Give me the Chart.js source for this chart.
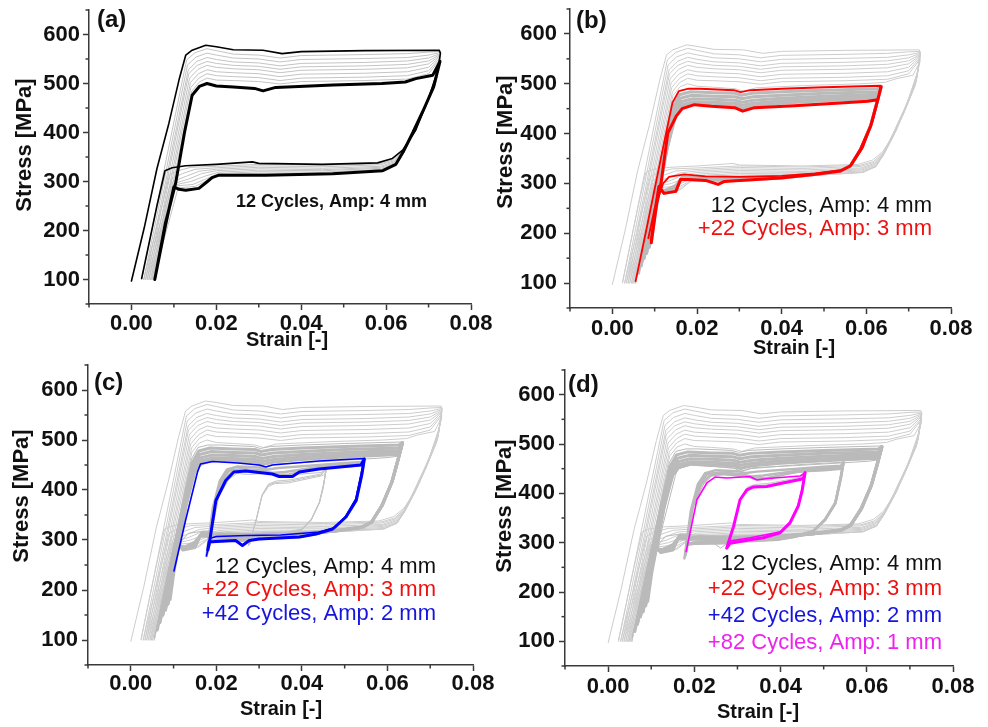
<!DOCTYPE html>
<html>
<head>
<meta charset="utf-8">
<script src="https://cdn.jsdelivr.net/npm/chart.js@4.4.1/dist/chart.umd.min.js"></script>
<style>
  html, body { margin: 0; padding: 0; background: #fff; }
  #wrap { position: relative; width: 988px; height: 727px; overflow: hidden; }
  canvas { position: absolute; }
</style>
</head>
<body>
<div id="wrap">
  <canvas id="pa" width="494" height="363" style="left:0;top:0"></canvas>
  <canvas id="pb" width="494" height="363" style="left:494px;top:0"></canvas>
  <canvas id="pc" width="494" height="364" style="left:0;top:363px"></canvas>
  <canvas id="pd" width="494" height="364" style="left:494px;top:363px"></canvas>
</div>
<script>
// axis ticks
const xTicks = [0, 0.02, 0.04, 0.06, 0.08];
const yTicks = [100, 200, 300, 400, 500, 600];
const xMinor = [-0.01, 0.01, 0.03, 0.05, 0.07];
const yMinor = [50, 150, 250, 350, 450, 550, 650];

// notes
const notes = [
  "12 Cycles, Amp: 4 mm",
  "+22 Cycles, Amp: 3 mm",
  "+42 Cycles, Amp: 2 mm",
  "+82 Cycles, Amp: 1 mm",
];

// ---- 4 mm amplitude, 12 cycles: [strain, stress MPa] ----
const loop4mmFirst = [
  [0.0000, 97], [0.0030, 205], [0.0060, 326], [0.0088, 418], [0.0112, 507], [0.0128, 558], [0.0143, 568],
  [0.0175, 578], [0.0200, 575], [0.0240, 569], [0.0310, 568], [0.0355, 561], [0.0400, 565], [0.0550, 567],
  [0.0725, 568], [0.0728, 562], [0.0722, 527], [0.0700, 470], [0.0670, 405], [0.0639, 364], [0.0615, 347],
  [0.0580, 338], [0.0450, 335], [0.0300, 337], [0.0285, 340], [0.0200, 335], [0.0128, 332], [0.0096, 328],
  [0.0079, 322], [0.0060, 250], [0.0024, 102],
];
const loops4mmMid = [
  [[0.0024, 100], [0.0077, 324], [0.0115, 485], [0.0130, 548], [0.0150, 563], [0.0178, 571], [0.0200, 567],
   [0.0240, 560], [0.0300, 558], [0.0350, 552], [0.0400, 557], [0.0550, 559], [0.0650, 561], [0.0700, 564],
   [0.0727, 565], [0.0721, 520], [0.0695, 458], [0.0667, 402], [0.0640, 362], [0.0617, 344], [0.0585, 336],
   [0.0450, 333], [0.0300, 335], [0.0200, 331], [0.0140, 329], [0.0110, 322], [0.0090, 314], [0.0029, 100]],
  [[0.0029, 100], [0.0081, 319], [0.0117, 474], [0.0132, 538], [0.0152, 554], [0.0178, 562], [0.0200, 558],
   [0.0240, 552], [0.0300, 550], [0.0350, 544], [0.0400, 549], [0.0550, 551], [0.0650, 553], [0.0700, 558],
   [0.0727, 563], [0.0720, 515], [0.0694, 455], [0.0666, 400], [0.0640, 360], [0.0618, 342], [0.0586, 334],
   [0.0450, 330], [0.0300, 332], [0.0200, 328], [0.0150, 325], [0.0120, 316], [0.0095, 306], [0.0033, 100]],
  [[0.0033, 100], [0.0084, 314], [0.0119, 464], [0.0134, 528], [0.0154, 545], [0.0178, 553], [0.0200, 549],
   [0.0240, 544], [0.0300, 542], [0.0350, 536], [0.0400, 541], [0.0550, 543], [0.0650, 546], [0.0700, 552],
   [0.0727, 561], [0.0719, 510], [0.0693, 452], [0.0666, 399], [0.0640, 359], [0.0619, 340], [0.0587, 331],
   [0.0450, 327], [0.0300, 329], [0.0200, 325], [0.0160, 321], [0.0130, 311], [0.0098, 300], [0.0037, 100]],
  [[0.0037, 100], [0.0086, 310], [0.0120, 456], [0.0135, 520], [0.0155, 537], [0.0178, 545], [0.0200, 541],
   [0.0240, 537], [0.0300, 535], [0.0350, 529], [0.0400, 534], [0.0550, 536], [0.0650, 539], [0.0700, 546],
   [0.0727, 559], [0.0718, 506], [0.0692, 450], [0.0665, 398], [0.0640, 358], [0.0620, 338], [0.0588, 329],
   [0.0450, 324], [0.0300, 326], [0.0200, 322], [0.0165, 316], [0.0135, 305], [0.0100, 296], [0.0041, 100]],
  [[0.0041, 100], [0.0089, 305], [0.0122, 447], [0.0137, 511], [0.0157, 529], [0.0178, 537], [0.0200, 533],
   [0.0240, 530], [0.0300, 528], [0.0350, 522], [0.0400, 527], [0.0550, 529], [0.0650, 532], [0.0700, 540],
   [0.0727, 557], [0.0717, 502], [0.0691, 448], [0.0665, 397], [0.0640, 357], [0.0621, 336], [0.0589, 327],
   [0.0450, 322], [0.0300, 323], [0.0205, 319], [0.0170, 310], [0.0140, 300], [0.0102, 293], [0.0045, 100]],
  [[0.0045, 100], [0.0092, 301], [0.0124, 438], [0.0139, 502], [0.0158, 520], [0.0178, 528], [0.0200, 524],
   [0.0240, 522], [0.0300, 520], [0.0350, 514], [0.0400, 519], [0.0550, 521], [0.0650, 524], [0.0700, 533],
   [0.0727, 555], [0.0716, 499], [0.0691, 446], [0.0664, 396], [0.0640, 357], [0.0622, 334], [0.0590, 325],
   [0.0450, 319], [0.0300, 320], [0.0205, 316], [0.0175, 305], [0.0145, 294], [0.0105, 291], [0.0048, 100]],
  [[0.0048, 100], [0.0094, 296], [0.0125, 428], [0.0140, 492], [0.0159, 511], [0.0178, 520], [0.0200, 516],
   [0.0240, 514], [0.0300, 512], [0.0350, 506], [0.0400, 511], [0.0550, 513], [0.0650, 516], [0.0700, 526],
   [0.0727, 552], [0.0715, 496], [0.0690, 444], [0.0664, 395], [0.0640, 356], [0.0622, 333], [0.0591, 323],
   [0.0450, 317], [0.0300, 317], [0.0205, 314], [0.0178, 302], [0.0150, 290], [0.0110, 287], [0.0051, 100]],
  [[0.0051, 100], [0.0097, 292], [0.0127, 421], [0.0142, 484], [0.0160, 503], [0.0178, 511], [0.0200, 507],
   [0.0240, 506], [0.0300, 504], [0.0350, 499], [0.0400, 504], [0.0550, 506], [0.0650, 509], [0.0700, 520],
   [0.0727, 549], [0.0714, 494], [0.0690, 447], [0.0663, 399], [0.0640, 359], [0.0623, 334], [0.0591, 322],
   [0.0450, 315], [0.0300, 315], [0.0206, 313], [0.0180, 301], [0.0155, 287], [0.0120, 283], [0.0102, 288],
   [0.0055, 100]],
];
const loop4mmLast = [
  [0.0055, 100], [0.0080, 215], [0.0104, 296], [0.0125, 400], [0.0143, 476], [0.0160, 494], [0.0178, 500],
  [0.0200, 495], [0.0240, 493], [0.0290, 490], [0.0310, 485], [0.0340, 492], [0.0475, 497], [0.0590, 500],
  [0.0645, 503], [0.0670, 510], [0.0710, 517], [0.0727, 545], [0.0712, 493], [0.0690, 450], [0.0663, 400],
  [0.0640, 360], [0.0623, 335], [0.0592, 322], [0.0474, 316], [0.0316, 313], [0.0206, 313], [0.0190, 308],
  [0.0179, 300], [0.0159, 286], [0.0128, 282], [0.0112, 284], [0.0100, 289], [0.0080, 210], [0.0055, 100],
];

// ---- 3 mm amplitude, +22 cycles ----
const loop3mmFirst = [
  [0.0055, 104], [0.0082, 214], [0.0115, 352], [0.0142, 462], [0.0157, 485], [0.0180, 490], [0.0208, 490],
  [0.0287, 487], [0.0303, 483], [0.0326, 487], [0.0400, 490], [0.0500, 493], [0.0633, 496], [0.0630, 475],
  [0.0615, 425], [0.0592, 372], [0.0566, 338], [0.0545, 327], [0.0480, 320], [0.0400, 315], [0.0300, 313],
  [0.0220, 314], [0.0170, 318], [0.0134, 313], [0.0120, 300], [0.0100, 250], [0.0085, 190],
];
const loops3mmMid = [
  [[0.0062, 120], [0.0090, 237], [0.0120, 360], [0.0144, 455], [0.0159, 478], [0.0185, 484], [0.0240, 482],
   [0.0290, 481], [0.0305, 477], [0.0330, 481], [0.0400, 484], [0.0500, 487], [0.0627, 490], [0.0635, 495],
   [0.0626, 465], [0.0611, 418], [0.0588, 370], [0.0564, 337], [0.0541, 326], [0.0478, 319], [0.0400, 314],
   [0.0300, 311], [0.0200, 311], [0.0168, 315], [0.0150, 296], [0.0125, 286], [0.0108, 288], [0.0068, 135]],
  [[0.0068, 135], [0.0095, 248], [0.0123, 362], [0.0146, 450], [0.0161, 471], [0.0188, 477], [0.0240, 475],
   [0.0290, 474], [0.0306, 470], [0.0332, 474], [0.0400, 477], [0.0500, 481], [0.0627, 484], [0.0635, 495],
   [0.0626, 464], [0.0611, 417], [0.0588, 369], [0.0563, 336], [0.0540, 326], [0.0477, 318], [0.0400, 313],
   [0.0300, 309], [0.0200, 310], [0.0166, 313], [0.0151, 292], [0.0124, 284], [0.0108, 289], [0.0075, 150]],
  [[0.0075, 150], [0.0100, 257], [0.0126, 365], [0.0148, 445], [0.0162, 464], [0.0190, 470], [0.0240, 469],
   [0.0290, 467], [0.0307, 463], [0.0333, 467], [0.0400, 471], [0.0500, 475], [0.0627, 479], [0.0635, 494],
   [0.0626, 463], [0.0611, 416], [0.0587, 369], [0.0563, 335], [0.0540, 325], [0.0477, 318], [0.0400, 312],
   [0.0300, 308], [0.0200, 309], [0.0164, 311], [0.0151, 289], [0.0123, 282], [0.0109, 290], [0.0081, 160]],
  [[0.0081, 160], [0.0105, 263], [0.0128, 365], [0.0149, 440], [0.0163, 458], [0.0192, 464], [0.0240, 463],
   [0.0290, 461], [0.0307, 457], [0.0334, 461], [0.0400, 466], [0.0500, 470], [0.0627, 475], [0.0635, 494],
   [0.0625, 462], [0.0610, 415], [0.0587, 368], [0.0562, 335], [0.0540, 325], [0.0476, 318], [0.0400, 311],
   [0.0300, 307], [0.0200, 308], [0.0162, 309], [0.0150, 286], [0.0122, 281], [0.0109, 292], [0.0087, 172]],
  [[0.0087, 172], [0.0108, 270], [0.0130, 372], [0.0150, 437], [0.0164, 453], [0.0193, 460], [0.0240, 458],
   [0.0290, 456], [0.0308, 451], [0.0335, 456], [0.0400, 461], [0.0500, 466], [0.0627, 471], [0.0635, 493],
   [0.0625, 462], [0.0610, 415], [0.0586, 368], [0.0562, 335], [0.0539, 325], [0.0476, 318], [0.0400, 311],
   [0.0300, 306], [0.0200, 307], [0.0161, 308], [0.0150, 285], [0.0122, 280], [0.0110, 293], [0.0092, 181]],
];
const loop3mmLast = [
  [0.0092, 181], [0.0105, 260], [0.0115, 300], [0.0131, 401], [0.0151, 435], [0.0165, 450], [0.0194, 458],
  [0.0234, 455], [0.0289, 452], [0.0308, 445], [0.0336, 452], [0.0430, 456], [0.0548, 462], [0.0603, 465],
  [0.0627, 468], [0.0635, 494], [0.0625, 462], [0.0610, 415], [0.0586, 368], [0.0562, 335], [0.0539, 325],
  [0.0476, 318], [0.0397, 311], [0.0300, 306], [0.0265, 304], [0.0250, 298], [0.0220, 306], [0.0180, 308],
  [0.0161, 308], [0.0150, 284], [0.0122, 280], [0.0110, 294], [0.0100, 240], [0.0092, 185],
];

// ---- 2 mm amplitude, +42 cycles ----
const loop2mmFirst = [
  [0.0101, 238], [0.0128, 339], [0.0156, 436], [0.0163, 452], [0.0191, 457], [0.0250, 454], [0.0300, 450],
  [0.0316, 446], [0.0331, 450], [0.0440, 458], [0.0500, 461], [0.0546, 463], [0.0538, 430], [0.0526, 382],
  [0.0503, 348], [0.0478, 325], [0.0440, 316], [0.0350, 310], [0.0269, 309], [0.0200, 307], [0.0185, 303],
  [0.0177, 268],
];
const loops2mmMid = [
  [[0.0177, 268], [0.0192, 365], [0.0208, 418], [0.0225, 441], [0.0250, 447], [0.0300, 445], [0.0320, 441],
   [0.0345, 444], [0.0440, 450], [0.0500, 454], [0.0540, 456], [0.0546, 463], [0.0539, 430], [0.0527, 381],
   [0.0503, 347], [0.0476, 323], [0.0436, 313], [0.0394, 308], [0.0300, 304], [0.0270, 302], [0.0200, 301],
   [0.0185, 298], [0.0179, 274]],
  [[0.0179, 274], [0.0194, 368], [0.0212, 418], [0.0230, 439], [0.0260, 442], [0.0310, 439], [0.0330, 434],
   [0.0360, 436], [0.0440, 446], [0.0500, 450], [0.0540, 453], [0.0546, 462], [0.0539, 430], [0.0527, 380],
   [0.0503, 346], [0.0474, 322], [0.0434, 312], [0.0394, 307], [0.0300, 303], [0.0270, 300], [0.0200, 299],
   [0.0184, 297], [0.0180, 278]],
  [[0.0180, 278], [0.0196, 372], [0.0216, 418], [0.0236, 436], [0.0265, 439], [0.0320, 435], [0.0340, 430],
   [0.0370, 431], [0.0440, 444], [0.0500, 447], [0.0540, 450], [0.0546, 462], [0.0540, 430], [0.0527, 379],
   [0.0503, 346], [0.0473, 322], [0.0433, 312], [0.0394, 306], [0.0300, 302], [0.0270, 299], [0.0200, 298],
   [0.0183, 296], [0.0180, 280]],
];
const loop2mmLast = [
  [0.0180, 280], [0.0183, 290], [0.0199, 379], [0.0222, 419], [0.0241, 436], [0.0269, 438], [0.0331, 432],
  [0.0347, 427], [0.0378, 427], [0.0394, 436], [0.0440, 442], [0.0538, 450], [0.0546, 462], [0.0540, 430],
  [0.0527, 379], [0.0503, 346], [0.0472, 322], [0.0433, 312], [0.0394, 306], [0.0300, 302], [0.0277, 299],
  [0.0261, 289], [0.0245, 299], [0.0200, 297], [0.0183, 296], [0.0180, 280],
];

// ---- 1 mm amplitude, +82 cycles ----
const loop1mmFirst = [
  [0.0181, 282], [0.0206, 387], [0.0229, 421], [0.0248, 433], [0.0275, 431], [0.0329, 434], [0.0345, 427],
  [0.0370, 430], [0.0445, 435], [0.0457, 442], [0.0450, 410], [0.0441, 376], [0.0422, 342], [0.0400, 322],
  [0.0330, 310], [0.0285, 304], [0.0278, 292],
];
const loops1mmMid = [
  [[0.0277, 292], [0.0293, 340], [0.0308, 392], [0.0322, 412], [0.0340, 418], [0.0370, 420], [0.0445, 432],
   [0.0457, 442], [0.0450, 407], [0.0441, 375], [0.0422, 341], [0.0400, 321], [0.0330, 308], [0.0284, 301],
   [0.0276, 290]],
  [[0.0276, 290], [0.0292, 336], [0.0307, 390], [0.0322, 410], [0.0338, 415], [0.0368, 417], [0.0445, 430],
   [0.0457, 442], [0.0450, 406], [0.0441, 375], [0.0422, 340], [0.0400, 320], [0.0330, 307], [0.0284, 300],
   [0.0275, 289]],
];
const loop1mmLast = [
  [0.0275, 289], [0.0291, 333], [0.0306, 387], [0.0322, 407], [0.0337, 413], [0.0368, 414], [0.0400, 420],
  [0.0445, 428], [0.0453, 431], [0.0457, 442], [0.0450, 405], [0.0441, 374], [0.0422, 340], [0.0399, 320],
  [0.0360, 310], [0.0329, 306], [0.0283, 299], [0.0275, 289],
];

const FONT = '"Liberation Sans", Arial, sans-serif';
const AXIS = "#3a3a3a";

function line(points, color, width) {
  return {
    data: points.map(([x, y]) => ({ x, y })),
    showLine: true,
    borderColor: color,
    borderWidth: width,
    pointRadius: 0,
    pointHoverRadius: 0,
    fill: false,
    tension: 0,
    borderJoinStyle: "round",
    borderCapStyle: "round",
  };
}

function grayAll(first, mids, last, color, midColor, midWidth) {
  return [line(first, color, 1), ...mids.map((m) => line(m, midColor, midWidth)), line(last, color, 1)];
}

// text, minor ticks and axis titles drawn on top
function panelText(cfg) {
  return {
    id: "panelText",
    afterDraw(chart) {
      const c = chart.ctx;
      const xs = chart.scales.x, ys = chart.scales.y;
      c.save();
      c.strokeStyle = AXIS;
      c.lineWidth = 1.5;
      xMinor.forEach((v) => {
        const px = xs.getPixelForValue(v);
        c.beginPath(); c.moveTo(px, xs.top); c.lineTo(px, xs.top + 3.5); c.stroke();
      });
      yMinor.forEach((v) => {
        const py = ys.getPixelForValue(v);
        c.beginPath(); c.moveTo(ys.right, py); c.lineTo(ys.right - 3.5, py); c.stroke();
      });

      c.fillStyle = "#111";
      c.textBaseline = "alphabetic";
      c.textAlign = "left";
      c.font = "bold 24px " + FONT;
      c.fillText(cfg.label, cfg.labelAt[0], cfg.labelAt[1]);

      c.textAlign = "center";
      c.font = "bold 20px " + FONT;
      c.fillText("Strain [-]", cfg.xTitleAt[0], cfg.xTitleAt[1]);

      c.save();
      c.translate(cfg.yTitleAt[0], cfg.yTitleAt[1]);
      c.rotate(-Math.PI / 2);
      c.textBaseline = "middle";
      c.font = "bold 22px " + FONT;
      c.fillText("Stress [MPa]", 0, 0);
      c.restore();

      c.font = cfg.noteFont;
      c.textAlign = cfg.noteAlign;
      cfg.noteColors.forEach((col, i) => {
        c.fillStyle = col;
        c.fillText(notes[i], cfg.noteX, cfg.noteY[i]);
      });
      c.restore();
    },
  };
}

function buildPanel(cfg, datasets) {
  const canvas = document.getElementById(cfg.id);
  return new Chart(canvas.getContext("2d"), {
    type: "scatter",
    data: { datasets },
    options: {
      responsive: false,
      animation: false,
      devicePixelRatio: 1,
      layout: { padding: { top: cfg.padTop, right: cfg.padRight, left: 0, bottom: 0 } },
      plugins: { legend: { display: false }, tooltip: { enabled: false } },
      scales: {
        x: {
          type: "linear",
          min: -0.01,
          max: 0.08,
          afterBuildTicks: (s) => { s.ticks = xTicks.map((v) => ({ value: v })); },
          afterFit: (s) => { s.height = cfg.xh; s.paddingLeft = 0; s.paddingRight = 0; },
          ticks: {
            callback: (v) => Number(v).toFixed(2),
            color: "#111",
            font: { family: FONT, weight: "bold", size: 22 },
            padding: cfg.xPad,
            maxRotation: 0,
            autoSkip: false,
          },
          grid: { drawOnChartArea: false, tickLength: 6, tickWidth: 1.5, tickColor: AXIS },
          border: { color: AXIS, width: 1.5 },
        },
        y: {
          type: "linear",
          min: 50,
          max: 650,
          afterBuildTicks: (s) => { s.ticks = yTicks.map((v) => ({ value: v })); },
          afterFit: (s) => { s.width = cfg.yw; s.paddingTop = 0; s.paddingBottom = 0; },
          ticks: {
            callback: (v) => String(v),
            color: "#111",
            font: { family: FONT, weight: "bold", size: 22 },
            padding: cfg.yPad,
            autoSkip: false,
          },
          grid: { drawOnChartArea: false, tickLength: 6, tickWidth: 1.5, tickColor: AXIS },
          border: { color: AXIS, width: 1.5 },
        },
      },
    },
    plugins: [panelText(cfg)],
  });
}

const G4 = "#cdcdcd";
const G3 = "#bababa";

// (a)
buildPanel(
  { id: "pa", yw: 89, xh: 59, padTop: 10, padRight: 23, yPad: 3, xPad: 1,
    label: "(a)", labelAt: [97, 27], xTitleAt: [287, 346], yTitleAt: [25, 145],
    noteFont: "bold 18px " + FONT, noteAlign: "left", noteX: 236, noteY: [207], noteColors: ["#111"] },
  [
    line(loop4mmLast, "#000", 3),
    line(loop4mmFirst, "#000", 1.6),
    ...loops4mmMid.map((m) => line(m, "#c4c4c4", 1)),
  ]
);

// (b)
buildPanel(
  { id: "pb", yw: 76, xh: 55, padTop: 9, padRight: 37, yPad: 7, xPad: 2,
    label: "(b)", labelAt: [82, 28], xTitleAt: [300, 354], yTitleAt: [12, 142],
    noteFont: "22px " + FONT, noteAlign: "right", noteX: 438, noteY: [212, 235],
    noteColors: ["#111", "#ee1111"] },
  [
    line(loop3mmLast, "#ff0000", 3),
    line(loop3mmFirst, "#ff0000", 1.8),
    ...loops3mmMid.map((m) => line(m, G3, 3)),
    ...grayAll(loop4mmFirst, loops4mmMid, loop4mmLast, G4, G4, 1),
  ]
);

// (c)
buildPanel(
  { id: "pc", yw: 88, xh: 62, padTop: 2, padRight: 21, yPad: 4, xPad: 0,
    label: "(c)", labelAt: [94, 27], xTitleAt: [281, 352], yTitleAt: [22, 133],
    noteFont: "22px " + FONT, noteAlign: "right", noteX: 436, noteY: [210, 233, 257],
    noteColors: ["#111", "#ee1111", "#1515dd"] },
  [
    line(loop2mmLast, "#0000ff", 3),
    line(loop2mmFirst, "#0000ff", 1.6),
    ...grayAll(loop1mmFirst, loops1mmMid, loop1mmLast, "#c4c4c4", "#c4c4c4", 1),
    ...loops2mmMid.map((m) => line(m, G3, 2.5)),
    ...grayAll(loop3mmFirst, loops3mmMid, loop3mmLast, G3, G3, 3),
    ...grayAll(loop4mmFirst, loops4mmMid, loop4mmLast, G4, G4, 1),
  ]
);

// (d)
buildPanel(
  { id: "pd", yw: 71, xh: 61, padTop: 7, padRight: 35, yPad: 4, xPad: 2,
    label: "(d)", labelAt: [74, 29], xTitleAt: [264, 355], yTitleAt: [11, 143],
    noteFont: "22px " + FONT, noteAlign: "right", noteX: 448, noteY: [207, 232, 259, 286],
    noteColors: ["#111", "#ee1111", "#1515dd", "#ee22ee"] },
  [
    line(loop1mmLast, "#ff00ff", 3),
    line(loop1mmFirst, "#ff00ff", 1.6),
    ...loops1mmMid.map((m) => line(m, "#c4c4c4", 1)),
    ...grayAll(loop2mmFirst, loops2mmMid, loop2mmLast, G3, G3, 2.5),
    ...grayAll(loop3mmFirst, loops3mmMid, loop3mmLast, G3, G3, 3),
    ...grayAll(loop4mmFirst, loops4mmMid, loop4mmLast, G4, G4, 1),
  ]
);
</script>
</body>
</html>
